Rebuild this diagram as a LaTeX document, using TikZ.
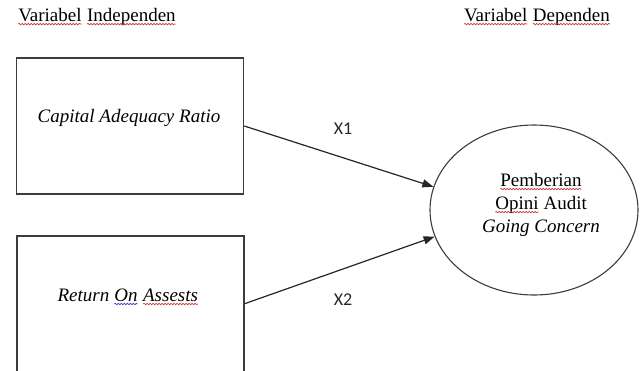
\documentclass[tikz,border=0pt]{standalone}
\usepackage{fontspec}
\setmainfont{Liberation Serif}
\newfontfamily\labelfont{Carlito}
\usetikzlibrary{shapes.geometric, arrows.meta, positioning, decorations.pathmorphing}
\definecolor{boxgray}{RGB}{60,60,60}
\definecolor{spellred}{RGB}{200,55,55}
\definecolor{spellblue}{RGB}{60,60,200}

% word with a wavy spell-check underline
\newcommand{\spellmark}[2][spellred]{%
  \tikz[baseline=(w.base)]{\node[inner sep=0pt, outer sep=0pt] (w) {#2};
  \draw[#1, line width=0.7pt, decorate, decoration={snake, amplitude=0.7pt, segment length=3pt}]
    ([yshift=-2.5pt]w.base west) -- ([yshift=-2.5pt]w.base east);}}

\begin{document}
\begin{tikzpicture}[
    % Global Styles
    x=1pt, y=-1pt,
    font=\fontsize{19}{23}\selectfont,
    % Node Styles
    varbox/.style={
        rectangle,
        draw=boxgray,
        line width=1.5pt,
        minimum width=227pt,
        minimum height=136pt,
        inner sep=0pt
    },
    depellipse/.style={
        ellipse,
        draw=boxgray,
        line width=1.1pt,
        minimum width=208pt,
        minimum height=170pt,
        inner sep=0pt
    },
    heading/.style={
        inner sep=1pt
    },
    pathlabel/.style={
        font=\labelfont\fontsize{18}{20}\selectfont,
        text=black!85
    },
    link/.style={
        -{Triangle[length=11pt, width=8pt]},
        draw=black!85,
        line width=1.2pt
    }
]

    \useasboundingbox (0,0) rectangle (640,370);
    \clip (0,0) rectangle (640,370);

    % --- Headings ---
    \node[heading] (indephead) at (97,17) {\spellmark{Variabel} \spellmark{Independen}};
    \node[heading] (dephead) at (537,17) {\spellmark{Variabel} \spellmark{Dependen}};

    % --- Independent variables ---
    \node[varbox] (car) at (130,126) {};
    \node[font=\fontsize{19}{23}\selectfont\itshape] (cartxt) at (129,118) {Capital Adequacy Ratio};

    \node[varbox, minimum height=140pt, anchor=north west] (roa) at (16,235) {};
    \node[font=\fontsize{19}{23}\selectfont\itshape] (roatxt) at (128,297)
        {Return \spellmark[spellblue]{On} \spellmark{Assests}};

    % --- Dependent variable ---
    \node[depellipse] (opini) at (534,210) {};
    \node[align=center] (opinitxt) at (541,205)
        {\spellmark{Pemberian}\\ \spellmark{Opini} Audit\\ \textit{Going Concern}};

    % --- Connectors ---
    \draw[link] (car.east) -- (opini.167);
    \draw[link] ([yshift=2pt]roa.east) -- (opini.195);

    \node[pathlabel] (x1lab) at (343,129) {X1};
    \node[pathlabel] (x2lab) at (343,300) {X2};

\end{tikzpicture}
\end{document}
